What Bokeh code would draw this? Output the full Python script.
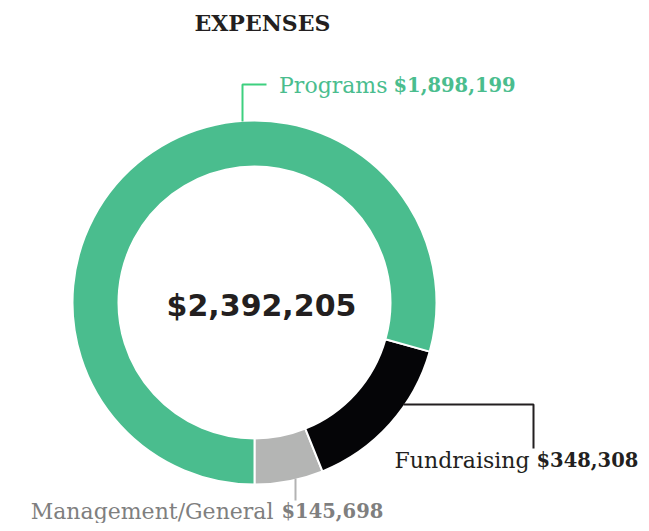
from bokeh.plotting import figure
from bokeh.models import Range1d, ColumnDataSource
from bokeh.core.properties import value
from bokeh.embed import file_html
from bokeh.resources import INLINE
import math

# ---- data ----
categories = ["Management/General", "Fundraising", "Programs"]
amounts = [145698, 348308, 1898199]
colors = ["#b4b5b4", "#050507", "#4abd8e"]
label_colors = ["#7f7f7f", "#231f20", "#4abd8e"]
leader_colors = ["#b3b3b3", "#231f20", "#3dd07f"]
title_text = "EXPENSES"

W, H = 641, 523
def Y(py):
    return H - py
def X(px):
    return px

p = figure(width=W, height=H, x_range=Range1d(0, W), y_range=Range1d(0, H),
           output_backend="svg", toolbar_location=None,
           x_axis_location=None, y_axis_location=None, min_border=0)
p.outline_line_color = None
p.xgrid.visible = False
p.ygrid.visible = False
p.background_fill_color = "white"

total = sum(amounts)
starts, ends = [], []
a = -math.pi / 2
for v in amounts:
    starts.append(a)
    a += 2 * math.pi * v / total
    ends.append(a)

cx, cy = 254, 302
src = ColumnDataSource(dict(start=starts, end=ends, color=colors))
p.annular_wedge(x=X(cx), y=Y(cy), inner_radius=136, outer_radius=182,
                inner_radius_units="screen", outer_radius_units="screen",
                start_angle="start", end_angle="end", fill_color="color",
                line_color="white", line_width=2, source=src)

# leader lines
leaders = {
    "Programs": ([242, 242, 266], [121, 84, 84]),
    "Fundraising": ([403, 533, 533], [404, 404, 448]),
    "Management/General": ([295, 295], [478, 500]),
}
for cat, lc in zip(categories, leader_colors):
    xs, ys = leaders[cat]
    p.line([X(v) for v in xs], [Y(v) for v in ys], line_color=lc, line_width=2)

serif = "DejaVu Serif"
def money(v):
    return "$" + format(v, ",")

# labels: (regular end x, bold start x, baseline y)
lab_pos = {"Programs": (387, 393, 85), "Fundraising": (529, 536, 460),
           "Management/General": (273, 281, 511)}
for cat, amt, col in zip(categories, amounts, label_colors):
    ex, bx, by = lab_pos[cat]
    p.text(x=[X(ex)], y=[Y(by)], text=[cat], text_font=value(serif), text_font_size="22px",
           text_color=col, text_align="right", text_baseline="alphabetic")
    p.text(x=[X(bx)], y=[Y(by)], text=[money(amt)], text_font=value(serif), text_font_size="19.5px",
           text_font_style="bold", text_color=col, text_align="left", text_baseline="alphabetic")

p.text(x=[X(194)], y=[Y(22)], text=[title_text], text_font=value(serif), text_font_size="22px",
       text_font_style="bold", text_color="#231f20", text_align="left", text_baseline="alphabetic")

p.text(x=[X(261)], y=[Y(305)], text=[money(total)], text_font=value("DejaVu Sans"),
       text_font_size="30px", text_font_style="bold", text_color="#231f20",
       text_align="center", text_baseline="alphabetic")

open("out.html", "w").write(file_html(p, INLINE))
